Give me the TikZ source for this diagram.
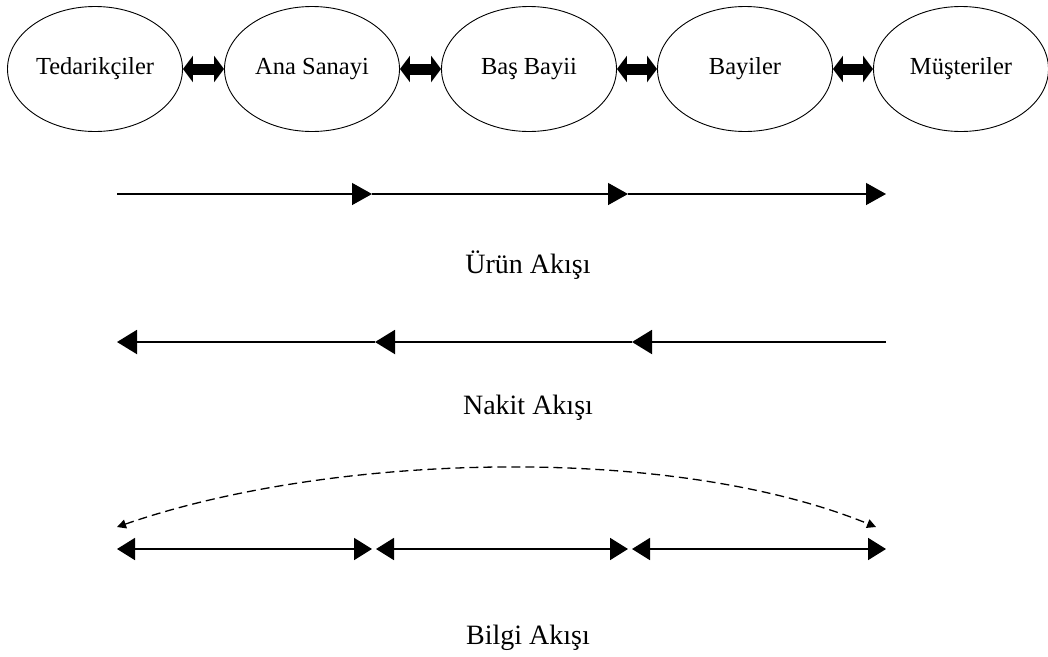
\documentclass[tikz,border=0pt]{standalone}
\usepackage{fontspec}
\newfontfamily\tnr{Liberation Serif}
\usetikzlibrary{arrows.meta,shapes.geometric}
\begin{document}
\begin{tikzpicture}[x=1pt,y=-1pt,
  actor/.style={draw, ellipse, minimum width=175pt, minimum height=125pt, inner sep=0pt, line width=0.9pt, font=\tnr\fontsize{24.5}{28}\selectfont},
  link/.style={line width=11pt, {Triangle[length=10pt,width=26pt]}-{Triangle[length=10pt,width=26pt]}},
  prodflow/.style={line width=1.3pt, -{Triangle[length=20pt,width=22pt]}},
  cashflow/.style={line width=2pt, -{Triangle[length=20pt,width=24pt]}},
  infoflow/.style={line width=1.8pt, {Triangle[length=18pt,width=22pt]}-{Triangle[length=18pt,width=22pt]}},
  infoarc/.style={line width=1.3pt, dashed, dash pattern=on 9pt off 5pt, {Triangle[length=9pt,width=9pt]}-{Triangle[length=9pt,width=9pt]}},
  lbl/.style={font=\tnr\fontsize{28}{32}\selectfont}]
\useasboundingbox (0,0) rectangle (1048,656);
% actors
\node[actor] (t) at (95,69) {Tedarikçiler};
\node[actor] (a) at (312,69) {Ana Sanayi};
\node[actor] (b) at (529,69) {Baş Bayii};
\node[actor] (y) at (745,69) {Bayiler};
\node[actor] (m) at (961,69) {\raisebox{3pt}{Müşteriler}};
\draw[link] (t) -- (a);
\draw[link] (a) -- (b);
\draw[link] (b) -- (y);
\draw[link] (y) -- (m);
% product flow
\coordinate (p0) at (117,194);
\coordinate (p1) at (372,194);
\coordinate (p2) at (628,194);
\coordinate (p3) at (886,194);
\draw[prodflow] (p0) -- (p1);
\draw[prodflow] (p1) -- (p2);
\draw[prodflow] (p2) -- (p3);
\node[lbl] (lp) at (528,265) {Ürün Akışı};
% cash flow
\coordinate (c0) at (886,342);
\coordinate (c1) at (632,342);
\coordinate (c2) at (375,342);
\coordinate (c3) at (117,342);
\draw[cashflow] (c0) -- (c1);
\draw[cashflow] (c1) -- (c2);
\draw[cashflow] (c2) -- (c3);
\node[lbl] (lc) at (528,408) {Nakit Akışı};
% information flow
\coordinate (i0) at (117,549);
\coordinate (i1) at (372,549);
\coordinate (i2) at (376,549);
\coordinate (i3) at (628,549);
\coordinate (i4) at (632,549);
\coordinate (i5) at (886,549);
\draw[infoflow] (i0) -- (i1);
\draw[infoflow] (i2) -- (i3);
\draw[infoflow] (i4) -- (i5);
\coordinate (d0) at (117,527);
\coordinate (d1) at (876,527);
\draw[infoarc] (d0) .. controls (330,453) and (670,443) .. (d1);
\node[lbl] (li) at (528,638) {Bilgi Akışı};
\end{tikzpicture}
\end{document}
